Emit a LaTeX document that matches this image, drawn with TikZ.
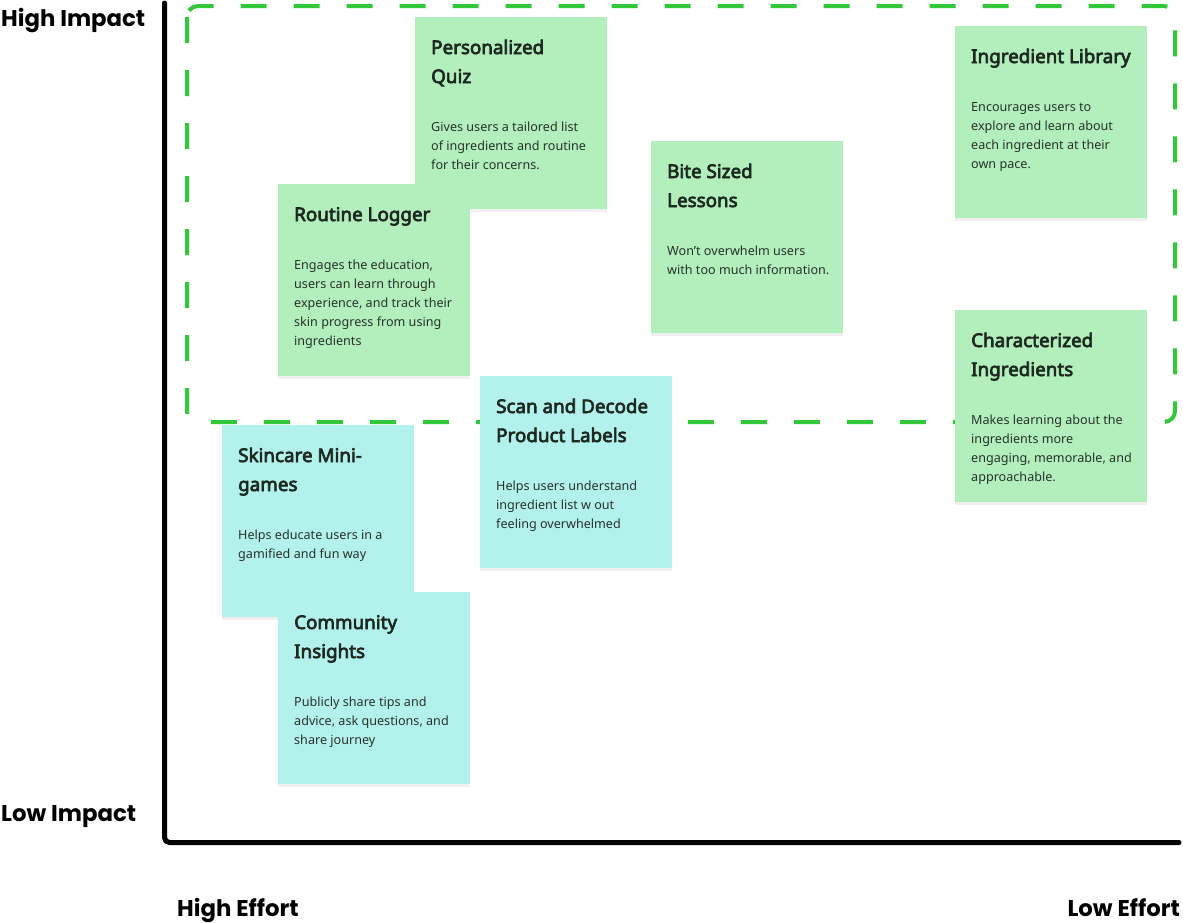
\documentclass[tikz,border=0pt]{standalone}
\usepackage{fontspec}
\setmainfont{Noto Sans}[AutoFakeBold=3.6]
\newfontfamily\axisfont{Poppins}
\usetikzlibrary{shadows}
\definecolor{stickygreen}{HTML}{B2EFBC}
\definecolor{stickycyan}{HTML}{B3F2EC}
\definecolor{dashgreen}{HTML}{33C73A}
\definecolor{inkdark}{HTML}{1D2920}
\definecolor{inkbody}{HTML}{26322A}
\tikzset{
  stickybox/.style={draw=none, anchor=north west, minimum width=192pt, minimum height=192pt, inner sep=0pt,
    drop shadow={shadow xshift=0pt, shadow yshift=-3pt, fill=black, opacity=0.06}},
  titletext/.style={anchor=base west, inner sep=0pt, text=inkdark, font=\fontsize{18.8}{29}\selectfont\bfseries},
  bodytext/.style={anchor=base west, inner sep=0pt, text=inkbody, font=\fontsize{12.6}{19}\selectfont},
  axislabel/.style={inner sep=0pt, text=black, font=\axisfont\fontsize{22.8}{24}\selectfont\bfseries},
  axisline/.style={line width=5pt, line cap=round, rounded corners=5pt},
  dashbox/.style={draw=dashgreen, line width=4pt, dash pattern=on 26pt off 27pt, rounded corners=11pt}
}
\newcommand\sticky[7]{%
  \node[stickybox, fill=#4] (#1) at (#2,#3) {};
  \node[titletext] (#1-title) at ([shift={(16,37)}]#1.north west) {\parbox[t]{176pt}{\raggedright #6}};
  \node[bodytext] (#1-body) at ([shift={(16,{85.5+29*(#5-1)})}]#1.north west) {\parbox[t]{176pt}{\raggedright #7}};
}
\begin{document}
\begin{tikzpicture}[x=1pt,y=-1pt]
\useasboundingbox (0,0) rectangle (1183,922);
% axes
\coordinate (ytop) at (164.5,3);
\coordinate (origin) at (164.5,842.5);
\coordinate (xend) at (1179,842.5);
\draw[axisline] (ytop) -- (origin) -- (xend);
% axis labels
\node[axislabel, anchor=base west] (hi) at (1,26) {High Impact};
\node[axislabel, anchor=base west] (li) at (1,821) {Low Impact};
\node[axislabel, anchor=base west] (he) at (177,916) {High Effort};
\node[axislabel, anchor=base east] (le) at (1180,916) {Low Effort};
% high-impact region
\draw[dashbox] (187,6) rectangle (1175,422);
% stickies
\sticky{quiz}{415}{17}{stickygreen}{2}{Personalized\\Quiz}{Gives users a tailored list\\of ingredients and routine\\for their concerns.}
\sticky{logger}{278}{184}{stickygreen}{1}{Routine Logger}{Engages the education,\\users can learn through\\experience, and track their\\skin progress from using\\ingredients}
\sticky{bite}{651}{141}{stickygreen}{2}{Bite Sized\\Lessons}{Won’t overwhelm users\\with too much information.}
\sticky{library}{955}{26}{stickygreen}{1}{Ingredient Library}{Encourages users to\\explore and learn about\\each ingredient at their\\own pace.}
\sticky{charact}{955}{310}{stickygreen}{2}{Characterized\\Ingredients}{Makes learning about the\\ingredients more\\engaging, memorable, and\\approachable.}
\sticky{scan}{480}{376}{stickycyan}{2}{Scan and Decode\\Product Labels}{Helps users understand\\ingredient list w out\\feeling overwhelmed}
\sticky{games}{222}{425}{stickycyan}{2}{Skincare Mini-\\games}{Helps educate users in a\\gamified and fun way}
\sticky{community}{278}{592}{stickycyan}{2}{Community\\Insights}{Publicly share tips and\\advice, ask questions, and\\share journey}
\end{tikzpicture}
\end{document}
